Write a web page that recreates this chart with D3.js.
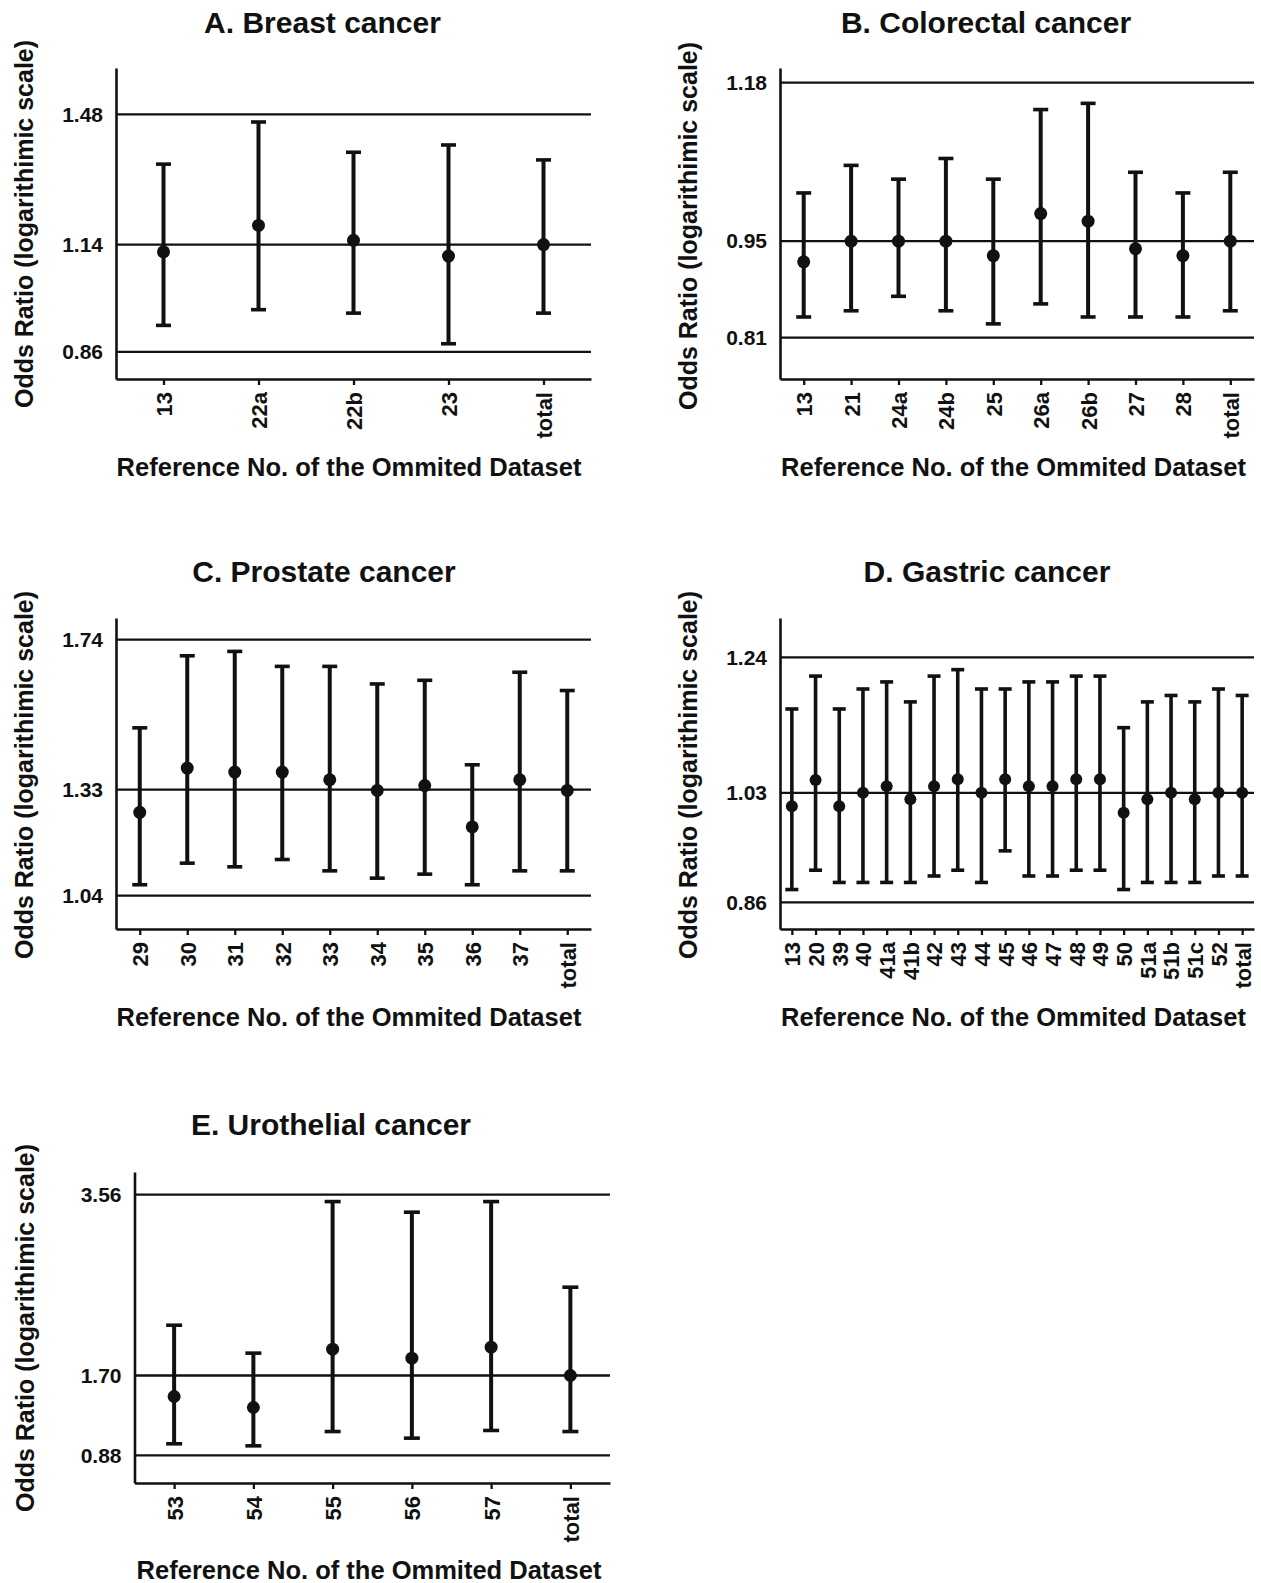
<!DOCTYPE html>
<html>
<head>
<meta charset="utf-8">
<script src="https://cdn.jsdelivr.net/npm/d3@7/dist/d3.min.js"></script>
<style>
  html, body { margin: 0; padding: 0; background: #fff; }
  svg { display: block; }
  text { font-family: "Liberation Sans", Arial, Helvetica, sans-serif; fill: #111; }
</style>
</head>
<body>
<svg id="chart" width="1261" height="1583"></svg>
<script>
// ---------------- DATA ----------------
// A. Breast cancer
const catsA  = ["13", "22a", "22b", "23", "total"];
const orA    = [1.121, 1.190, 1.151, 1.110, 1.140];
const loA    = [0.929, 0.970, 0.961, 0.881, 0.961];
const hiA    = [1.350, 1.460, 1.381, 1.400, 1.361];
const ticksA = [0.86, 1.14, 1.48];

// B. Colorectal cancer
const catsB  = ["13", "21", "24a", "24b", "25", "26a", "26b", "27", "28", "total"];
const orB    = [0.920, 0.950, 0.950, 0.950, 0.929, 0.990, 0.979, 0.939, 0.929, 0.950];
const loB    = [0.840, 0.849, 0.870, 0.849, 0.830, 0.859, 0.840, 0.840, 0.840, 0.849];
const hiB    = [1.020, 1.060, 1.040, 1.070, 1.040, 1.141, 1.150, 1.050, 1.020, 1.050];
const ticksB = [0.81, 0.95, 1.18];

// C. Prostate cancer
const catsC  = ["29", "30", "31", "32", "33", "34", "35", "36", "37", "total"];
const orC    = [1.268, 1.389, 1.378, 1.378, 1.357, 1.328, 1.341, 1.228, 1.357, 1.328];
const loC    = [1.070, 1.129, 1.119, 1.139, 1.108, 1.088, 1.099, 1.070, 1.108, 1.108];
const hiC    = [1.499, 1.696, 1.708, 1.667, 1.667, 1.619, 1.629, 1.398, 1.651, 1.601];
const ticksC = [1.04, 1.33, 1.74];

// D. Gastric cancer
const catsD  = ["13", "20", "39", "40", "41a", "41b", "42", "43", "44", "45",
                "46", "47", "48", "49", "50", "51a", "51b", "51c", "52", "total"];
const orD    = [1.009, 1.050, 1.009, 1.030, 1.040, 1.020, 1.040, 1.051, 1.030, 1.051,
                1.040, 1.040, 1.051, 1.051, 0.999, 1.020, 1.030, 1.020, 1.030, 1.030];
const loD    = [0.880, 0.910, 0.891, 0.891, 0.891, 0.891, 0.901, 0.910, 0.891, 0.940,
                0.901, 0.901, 0.910, 0.910, 0.880, 0.891, 0.891, 0.891, 0.901, 0.901];
const hiD    = [1.160, 1.211, 1.160, 1.191, 1.202, 1.171, 1.211, 1.221, 1.191, 1.191,
                1.202, 1.202, 1.211, 1.211, 1.131, 1.171, 1.181, 1.171, 1.191, 1.181];
const ticksD = [0.86, 1.03, 1.24];

// E. Urothelial cancer
const catsE  = ["53", "54", "55", "56", "57", "total"];
const orE    = [1.484, 1.371, 1.971, 1.878, 1.991, 1.700];
const loE    = [0.998, 0.977, 1.124, 1.056, 1.135, 1.124];
const hiE    = [2.217, 1.930, 3.488, 3.379, 3.488, 2.608];
const ticksE = [0.88, 1.70, 3.56];

const titles = ["A. Breast cancer", "B. Colorectal cancer", "C. Prostate cancer",
                "D. Gastric cancer", "E. Urothelial cancer"];
const xTitle = "Reference No. of the Ommited Dataset";
const yTitle = "Odds Ratio (logarithimic scale)";

// ---------------- LAYOUT ----------------
const panels = [
  { cats: catsA, or: orA, lo: loA, hi: hiA, ticks: ticksA, title: titles[0],
    left: 116, right: 591, top: 68, bottom: 379, dom: [0.789, 1.601],
    titleX: 322.5, titleY: 33, xlabX: 349, xlabY: 476, ylabX: 33, ylabY: 224,
    cap: 15, bw: 4, r: 6.5 },
  { cats: catsB, or: orB, lo: loB, hi: hiB, ticks: ticksB, title: titles[1],
    left: 780, right: 1254, top: 68, bottom: 379, dom: [0.750, 1.2013],
    titleX: 986, titleY: 33, xlabX: 1013.5, xlabY: 476, ylabX: 697, ylabY: 226,
    cap: 15, bw: 4, r: 6.5 },
  { cats: catsC, or: orC, lo: loC, hi: hiC, ticks: ticksC, title: titles[2],
    left: 116, right: 591, top: 618, bottom: 929, dom: [0.949, 1.7993],
    titleX: 324, titleY: 582, xlabX: 349, xlabY: 1026, ylabX: 33, ylabY: 775,
    cap: 15, bw: 4, r: 6.5 },
  { cats: catsD, or: orD, lo: loD, hi: hiD, ticks: ticksD, title: titles[3],
    left: 780, right: 1254, top: 618, bottom: 929, dom: [0.8188, 1.3011],
    titleX: 987, titleY: 582, xlabX: 1013.5, xlabY: 1026, ylabX: 697, ylabY: 775,
    cap: 13, bw: 3.6, r: 6 },
  { cats: catsE, or: orE, lo: loE, hi: hiE, ticks: ticksE, title: titles[4],
    left: 134.5, right: 610, top: 1172, bottom: 1483, dom: [0.595, 3.792],
    titleX: 331, titleY: 1135, xlabX: 369, xlabY: 1579, ylabX: 34, ylabY: 1328,
    cap: 16, bw: 4, r: 6.5 }
];

const svg = d3.select("#chart");
const FONT = '"Liberation Sans", Arial, sans-serif';

panels.forEach(p => {
  const g = svg.append("g");
  const x = d3.scalePoint().domain(p.cats).range([p.left, p.right]).padding(0.5);
  const y = d3.scaleLinear().domain(p.dom).range([p.bottom, p.top]);

  // reference lines at tick values
  g.selectAll("line.ref").data(p.ticks).join("line")
    .attr("x1", p.left).attr("x2", p.right)
    .attr("y1", d => y(d)).attr("y2", d => y(d))
    .attr("stroke", "#111").attr("stroke-width", 2.3);

  // y axis
  const ya = g.append("g").attr("transform", `translate(${p.left},0)`)
    .call(d3.axisLeft(y).tickValues(p.ticks).tickFormat(d3.format(".2f"))
      .tickSize(0).tickSizeOuter(0).tickPadding(13));
  ya.select(".domain").attr("stroke", "#111").attr("stroke-width", 2.6);
  ya.selectAll(".tick text").style("font-size", "21px").style("font-weight", "bold")
    .style("font-family", FONT).attr("fill", "#111");

  // x axis
  const xa = g.append("g").attr("transform", `translate(0,${p.bottom})`)
    .call(d3.axisBottom(x).tickSize(6).tickSizeOuter(0));
  xa.select(".domain").attr("stroke", "#111").attr("stroke-width", 2.6);
  xa.selectAll(".tick line").attr("stroke", "#111").attr("stroke-width", 2.3);
  xa.selectAll(".tick text")
    .attr("transform", "rotate(-90)")
    .attr("x", -13).attr("y", 0).attr("dy", "0.36em")
    .attr("text-anchor", "end")
    .style("font-size", "22px").style("font-weight", "bold")
    .style("font-family", FONT).attr("fill", "#111");

  // error bars
  const idx = d3.range(p.cats.length);
  g.selectAll("line.bar").data(idx).join("line")
    .attr("x1", i => x(p.cats[i])).attr("x2", i => x(p.cats[i]))
    .attr("y1", i => y(p.lo[i])).attr("y2", i => y(p.hi[i]))
    .attr("stroke", "#111").attr("stroke-width", p.bw);
  g.selectAll("line.capHi").data(idx).join("line")
    .attr("x1", i => x(p.cats[i]) - p.cap / 2).attr("x2", i => x(p.cats[i]) + p.cap / 2)
    .attr("y1", i => y(p.hi[i])).attr("y2", i => y(p.hi[i]))
    .attr("stroke", "#111").attr("stroke-width", 3.6);
  g.selectAll("line.capLo").data(idx).join("line")
    .attr("x1", i => x(p.cats[i]) - p.cap / 2).attr("x2", i => x(p.cats[i]) + p.cap / 2)
    .attr("y1", i => y(p.lo[i])).attr("y2", i => y(p.lo[i]))
    .attr("stroke", "#111").attr("stroke-width", 3.6);
  g.selectAll("circle.pt").data(idx).join("circle")
    .attr("cx", i => x(p.cats[i])).attr("cy", i => y(p.or[i]))
    .attr("r", p.r).attr("fill", "#111");

  // titles
  g.append("text").attr("x", p.titleX).attr("y", p.titleY)
    .attr("text-anchor", "middle").style("font-size", "30px").style("font-weight", "bold")
    .text(p.title);
  g.append("text").attr("x", p.xlabX).attr("y", p.xlabY)
    .attr("text-anchor", "middle").style("font-size", "25.5px").style("font-weight", "bold")
    .text(xTitle);
  g.append("text").attr("transform", `translate(${p.ylabX},${p.ylabY}) rotate(-90)`)
    .attr("text-anchor", "middle").style("font-size", "25px").style("font-weight", "bold")
    .text(yTitle);
});
</script>
</body>
</html>
